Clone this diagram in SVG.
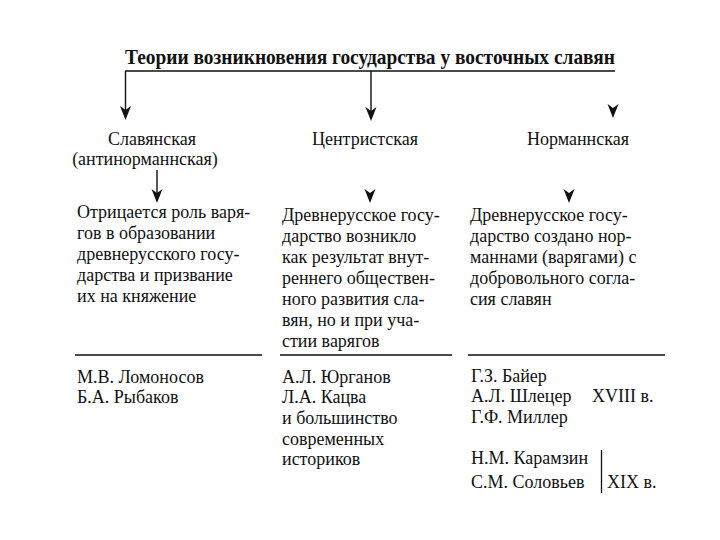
<svg xmlns="http://www.w3.org/2000/svg" width="720" height="540" viewBox="0 0 720 540">
<style>
text{font-family:"Liberation Serif","Times New Roman",serif;fill:#111;}
.t{font-size:18px;}
.h{font-size:18px;text-anchor:middle;}
.title{font-size:21px;font-weight:bold;}
.ln{stroke:#111;stroke-width:1.4;fill:none;}
.rule{stroke:#111;stroke-width:1.3;}
</style>
<defs>
<path id="ah" d="M0,0 L-5.5,-14 L0,-10 L5.5,-14 Z" fill="#111"/>
</defs>
<rect width="720" height="540" fill="#fff"/>
<g id="title"><text class="title" x="125" y="64" textLength="490" lengthAdjust="spacingAndGlyphs">Теории возникновения государства у восточных славян</text></g>
<g id="connectors">
<path class="ln" d="M125,71 H615 M125.5,71 V112 M371,71 V113 M157,170 V195"/>
<use href="#ah" x="125.5" y="120"/>
<use href="#ah" x="371" y="121"/>
<use href="#ah" x="613" y="118"/>
<use href="#ah" x="157" y="203"/>
<use href="#ah" x="370" y="203"/>
<use href="#ah" x="569" y="203"/>
</g>
<g id="slav">
<text class="h" x="152" y="145">Славянская</text>
<text class="h" x="145" y="165">(антинорманнская)</text>
</g>
<g id="centr"><text class="h" x="365" y="145">Центристская</text></g>
<g id="norm"><text class="h" x="578" y="145">Норманнская</text></g>
<g id="slav-desc">
<text class="t" x="77" y="218">Отрицается роль варя-</text>
<text class="t" x="77" y="239">гов в образовании</text>
<text class="t" x="77" y="260">древнерусского госу-</text>
<text class="t" x="77" y="281">дарства и призвание</text>
<text class="t" x="77" y="302">их на княжение</text>
</g>
<g id="centr-desc">
<text class="t" x="282" y="221">Древнерусское госу-</text>
<text class="t" x="282" y="242">дарство возникло</text>
<text class="t" x="282" y="263">как результат внут-</text>
<text class="t" x="282" y="284">реннего обществен-</text>
<text class="t" x="282" y="305">ного развития сла-</text>
<text class="t" x="282" y="326">вян, но и при уча-</text>
<text class="t" x="282" y="347">стии варягов</text>
</g>
<g id="norm-desc">
<text class="t" x="470" y="221">Древнерусское госу-</text>
<text class="t" x="470" y="242">дарство создано нор-</text>
<text class="t" x="470" y="263">маннами (варягами) с</text>
<text class="t" x="470" y="284">добровольного согла-</text>
<text class="t" x="470" y="305">сия славян</text>
</g>
<g id="rules">
<line class="rule" x1="75" y1="355" x2="262" y2="355"/>
<line class="rule" x1="280" y1="355" x2="452" y2="355"/>
<line class="rule" x1="468" y1="355" x2="665" y2="355"/>
</g>
<g id="slav-names">
<text class="t" x="77" y="383">М.В. Ломоносов</text>
<text class="t" x="77" y="403">Б.А. Рыбаков</text>
</g>
<g id="centr-names">
<text class="t" x="282" y="383">А.Л. Юрганов</text>
<text class="t" x="282" y="403">Л.А. Кацва</text>
<text class="t" x="282" y="424">и большинство</text>
<text class="t" x="282" y="445">современных</text>
<text class="t" x="282" y="465">историков</text>
</g>
<g id="norm-names">
<text class="t" x="471" y="382">Г.З. Байер</text>
<text class="t" x="471" y="402">А.Л. Шлецер</text>
<text class="t" x="592" y="402">XVIII в.</text>
<text class="t" x="471" y="423">Г.Ф. Миллер</text>
<text class="t" x="471" y="464">Н.М. Карамзин</text>
<text class="t" x="471" y="488">С.М. Соловьев</text>
<line class="rule" x1="601.5" y1="450" x2="601.5" y2="493"/>
<text class="t" x="607" y="488">XIX в.</text>
</g>
</svg>
